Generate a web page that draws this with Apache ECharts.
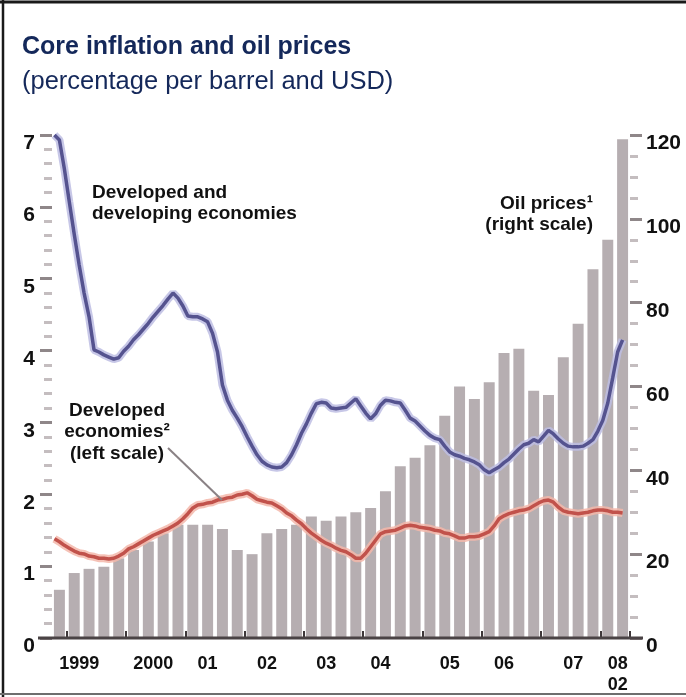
<!DOCTYPE html>
<html>
<head>
<meta charset="utf-8">
<script src="https://cdn.jsdelivr.net/npm/echarts@6/dist/echarts.min.js"></script>
<style>
html,body{margin:0;padding:0;background:#fff;}
#chart{width:686px;height:697px;}
</style>
</head>
<body>
<div id="chart"></div>
<script>
// ---- DATA ----
// Quarterly oil prices (USD per barrel), 1998Q4 .. 2008Q2, right scale
const quarters = ['1998Q4','1999Q1','1999Q2','1999Q3','1999Q4','2000Q1','2000Q2','2000Q3','2000Q4',
  '2001Q1','2001Q2','2001Q3','2001Q4','2002Q1','2002Q2','2002Q3','2002Q4','2003Q1','2003Q2','2003Q3','2003Q4',
  '2004Q1','2004Q2','2004Q3','2004Q4','2005Q1','2005Q2','2005Q3','2005Q4','2006Q1','2006Q2','2006Q3','2006Q4',
  '2007Q1','2007Q2','2007Q3','2007Q4','2008Q1','2008Q2'];
const oilPrices = [11.5,15.5,16.5,17,19,21,23,25,27,27,27,26,21,20,25,26,27,29,28,29,30,31,35,41,43,46,53,60,57,61,68,69,59,58,67,75,88,95,119];

// Monthly core inflation (%), Oct 1998 .. May 2008, left scale
const developedAndDeveloping = [7.00,6.93,6.53,6.07,5.62,5.19,4.80,4.47,4.01,3.98,
  3.94,3.91,3.88,3.90,3.99,4.06,4.15,4.22,4.30,4.38,
  4.47,4.55,4.63,4.72,4.80,4.73,4.62,4.48,4.47,4.47,
  4.44,4.40,4.24,3.98,3.52,3.31,3.17,3.06,2.94,2.80,
  2.67,2.55,2.46,2.41,2.38,2.37,2.38,2.44,2.55,2.69,
  2.85,2.98,3.13,3.26,3.28,3.27,3.20,3.19,3.20,3.21,
  3.27,3.33,3.23,3.13,3.05,3.12,3.24,3.31,3.30,3.28,
  3.27,3.17,3.06,3.02,2.95,2.88,2.82,2.78,2.76,2.67,
  2.59,2.55,2.53,2.50,2.48,2.45,2.41,2.34,2.30,2.34,
  2.38,2.44,2.49,2.56,2.63,2.69,2.71,2.76,2.73,2.81,
  2.89,2.84,2.77,2.71,2.67,2.66,2.66,2.67,2.71,2.76,
  2.88,3.03,3.27,3.62,3.98,4.15];
const developed = [1.38,1.34,1.29,1.25,1.21,1.18,1.17,1.14,1.13,1.11,
  1.11,1.10,1.11,1.14,1.18,1.24,1.27,1.31,1.35,1.39,
  1.43,1.46,1.49,1.52,1.56,1.60,1.66,1.73,1.81,1.85,
  1.86,1.88,1.89,1.92,1.93,1.95,1.96,1.99,2.00,2.02,
  1.98,1.93,1.91,1.89,1.88,1.84,1.80,1.74,1.70,1.64,
  1.59,1.52,1.46,1.41,1.36,1.32,1.29,1.25,1.22,1.20,
  1.16,1.11,1.11,1.18,1.27,1.36,1.45,1.48,1.49,1.50,
  1.53,1.56,1.57,1.56,1.54,1.53,1.52,1.50,1.49,1.46,
  1.45,1.42,1.39,1.39,1.41,1.41,1.42,1.45,1.48,1.56,
  1.66,1.70,1.73,1.75,1.77,1.78,1.80,1.84,1.88,1.91,
  1.92,1.89,1.82,1.77,1.75,1.74,1.73,1.74,1.75,1.77,
  1.78,1.78,1.77,1.75,1.75,1.74];

// Month categories Oct 1998 .. Jun 2008
const months = [];
for (let y = 1998; y <= 2008; y++) {
  for (let m = 1; m <= 12; m++) {
    if ((y === 1998 && m < 10) || (y === 2008 && m > 6)) continue;
    months.push(y + '-' + (m < 10 ? '0' + m : m));
  }
}
// x-axis tick labels and the month they sit on
const xLabels = ['1999','2000','01','02','03','04','05','06','07','08\n02'];
const xLabelMonths = ['1999-03','2000-06','2001-05','2002-05','2003-05','2004-04','2005-06','2006-05','2007-07','2008-04'];
const leftTicks = [0,1,2,3,4,5,6,7];
const rightTicks = [0,20,40,60,80,100,120];

// ---- LAYOUT ----
const G = {left: 52, right: 56, top: 135, bottom: 59};
const W = 686, H = 697;
const FONT = '"Liberation Sans", Arial, Helvetica, sans-serif';
const navy = '#14285a';
const baseY = H - G.bottom;

const chart = echarts.init(document.getElementById('chart'), null, {renderer: 'canvas'});

const labelMap = {};
xLabelMonths.forEach((m, i) => { labelMap[m] = xLabels[i]; });

chart.setOption({
  backgroundColor: '#ffffff',
  animation: false,
  title: {
    text: 'Core inflation and oil prices',
    subtext: '(percentage per barrel and USD)',
    left: 22, top: 32, itemGap: 5, padding: 0,
    textStyle: {fontFamily: FONT, fontSize: 25, fontWeight: 'bold', color: navy, lineHeight: 30},
    subtextStyle: {fontFamily: FONT, fontSize: 25.5, fontWeight: 'normal', color: navy, lineHeight: 30}
  },
  grid: {left: G.left, right: G.right, top: G.top, bottom: G.bottom, containLabel: false},
  xAxis: [
    {type: 'category', data: quarters, show: false, boundaryGap: true},
    {type: 'category', data: months, boundaryGap: true, position: 'bottom',
      axisLine: {show: false},
      axisTick: {show: true, inside: true, length: 7, lineStyle: {color: '#3e3739', width: 2},
        interval: (idx, val) => /-01$/.test(val)},
      axisLabel: {interval: 0, margin: 16, fontFamily: FONT, fontSize: 18, fontWeight: 'bold',
        color: '#111', lineHeight: 21, verticalAlign: 'top',
        formatter: v => labelMap[v] || ''},
      splitLine: {show: false}}
  ],
  yAxis: [
    {type: 'value', min: 0, max: 7, interval: 1, position: 'left',
      axisLine: {show: false},
      axisTick: {show: true, length: 12, lineStyle: {color: '#8f8789', width: 3}},
      minorTick: {show: true, splitNumber: 5, length: 8, lineStyle: {color: '#c4bdbf', width: 3}},
      axisLabel: {margin: 17, fontFamily: FONT, fontSize: 21, fontWeight: 'bold', color: '#111',
        verticalAlign: 'top', lineHeight: 17,
        formatter: v => leftTicks.indexOf(v) >= 0 ? String(v) : ''},
      splitLine: {show: false}},
    {type: 'value', min: 0, max: 120, interval: 20, position: 'right',
      axisLine: {show: false},
      axisTick: {show: true, length: 12, lineStyle: {color: '#8f8789', width: 3}},
      minorTick: {show: true, splitNumber: 4, length: 8, lineStyle: {color: '#c4bdbf', width: 3}},
      axisLabel: {margin: 16, fontFamily: FONT, fontSize: 21, fontWeight: 'bold', color: '#111',
        verticalAlign: 'top', lineHeight: 17,
        formatter: v => rightTicks.indexOf(v) >= 0 ? String(v) : ''},
      splitLine: {show: false}}
  ],
  series: [
    {name: 'Oil prices', type: 'bar', xAxisIndex: 0, yAxisIndex: 1, data: oilPrices,
      barWidth: '74%', itemStyle: {color: '#b6aeb1'}, z: 1},
    {name: 'dev halo', type: 'line', xAxisIndex: 1, yAxisIndex: 0, data: developed,
      symbol: 'none', lineStyle: {color: '#f3b7aa', width: 8, opacity: 0.85}, z: 2, silent: true},
    {name: 'Developed economies', type: 'line', xAxisIndex: 1, yAxisIndex: 0, data: developed,
      symbol: 'none', lineStyle: {color: '#c1524b', width: 3.5}, z: 3},
    {name: 'all halo', type: 'line', xAxisIndex: 1, yAxisIndex: 0, data: developedAndDeveloping,
      symbol: 'none', lineStyle: {color: '#bdbde3', width: 8, opacity: 0.85}, z: 4, silent: true},
    {name: 'Developed and developing economies', type: 'line', xAxisIndex: 1, yAxisIndex: 0,
      data: developedAndDeveloping, symbol: 'none', lineStyle: {color: '#55538f', width: 3.5}, z: 5}
  ],
  graphic: [
    // frame
    {type: 'line', shape: {x1: 0, y1: 2, x2: W, y2: 2}, style: {stroke: '#1a1a1a', lineWidth: 3}, z: 100},
    {type: 'line', shape: {x1: 3, y1: 0, x2: 3, y2: H}, style: {stroke: '#1a1a1a', lineWidth: 2.5}, z: 100},
    {type: 'line', shape: {x1: 0, y1: H - 3, x2: W, y2: H - 3}, style: {stroke: '#6e6e6e', lineWidth: 2}, z: 100},
    // baseline
    {type: 'line', shape: {x1: G.left - 14, y1: baseY, x2: W - G.right + 13, y2: baseY},
      style: {stroke: '#4a4345', lineWidth: 3}, z: 50},
    // annotations
    {type: 'text', x: 92, y: 203, z: 60,
      style: {text: 'Developed and\ndeveloping economies', fill: '#111', font: 'bold 19px ' + FONT,
        lineHeight: 21, textAlign: 'left', textVerticalAlign: 'middle'}},
    {type: 'text', x: 593, y: 214, z: 60,
      style: {text: 'Oil prices\u00b9\n(right scale)', fill: '#111', font: 'bold 19px ' + FONT,
        lineHeight: 21, textAlign: 'right', textVerticalAlign: 'middle'}},
    {type: 'text', x: 117, y: 432, z: 60,
      style: {text: 'Developed\neconomies\u00b2\n(left scale)', fill: '#111', font: 'bold 19px ' + FONT,
        lineHeight: 21.5, textAlign: 'center', textVerticalAlign: 'middle'}},
    {type: 'line', shape: {x1: 168, y1: 448, x2: 222, y2: 500}, style: {stroke: '#8a8285', lineWidth: 2}, z: 60}
  ]
});
</script>
</body>
</html>
